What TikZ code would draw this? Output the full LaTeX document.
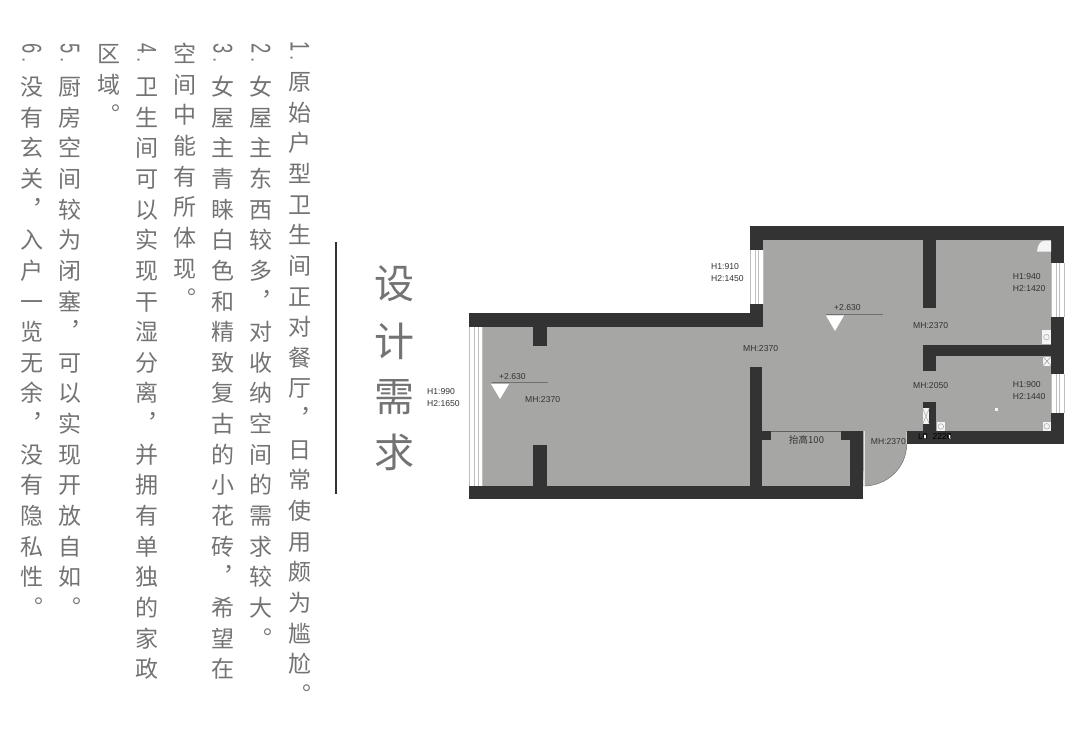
\documentclass[tikz,border=0pt]{standalone}
\usepackage{fontspec}
\usepackage{xcolor}
\setmainfont{Liberation Sans}
\newfontfamily\cjk[RawFeature=+vert]{Noto Sans CJK SC}
\newfontfamily\cjkplain{Noto Sans CJK SC}
\definecolor{wallgray}{RGB}{51,51,51}
\definecolor{floorgray}{RGB}{166,166,164}
\definecolor{textgray}{RGB}{115,115,115}
\definecolor{stripegray}{RGB}{190,190,190}
\tikzset{
    wall/.style={fill=wallgray,draw=none},
    floorpart/.style={fill=floorgray,draw=none},
    glyph/.style={inner sep=0pt,text=textgray,font=\cjk\fontsize{23}{23}\selectfont,text height=20pt,text depth=3pt,text width=23pt,align=center},
    digit/.style={inner sep=0pt,anchor=west,text=textgray,font=\fontsize{27}{27}\selectfont,rotate=-90},
    dimlabel/.style={anchor=west,inner sep=0pt,text=wallgray,font=\fontsize{8.6}{8.6}\selectfont},
    fixture/.style={fill=white!88!floorgray,draw=none},
    marker/.style={fill=white,draw=none}
}
% one upright column of characters, top to bottom
\newcommand{\vcolumn}[4]{%
    \foreach \c [count=\i from 0] in {#4} {
        \node[glyph] (#1-\i) at (#2,#3+30.65*\i) {\c};
    }
}
% narrow number lying on its side, then its dot
\newcommand{\vnumber}[1]{\scalebox{.68}[1]{#1}\kern4pt\scalebox{.7}{.}}
\begin{document}
\begin{tikzpicture}[x=1pt,y=-1pt]
\useasboundingbox (0,0) rectangle (1080,735);

% text columns
\node[digit] (numa) at (300,41) {\vnumber{1}};
\vcolumn{cola}{300}{82}{原,始,户,型,卫,生,间,正,对,餐,厅,，,日,常,使,用,颇,为,尴,尬,。}
\node[digit] (numb) at (261,43) {\vnumber{2}};
\vcolumn{colb}{261}{87}{女,屋,主,东,西,较,多,，,对,收,纳,空,间,的,需,求,较,大,。}
\node[digit] (numc) at (223,43) {\vnumber{3}};
\vcolumn{colc}{223}{87}{女,屋,主,青,睐,白,色,和,精,致,复,古,的,小,花,砖,，,希,望,在}
\vcolumn{cold}{185}{54}{空,间,中,能,有,所,体,现,。}
\node[digit] (numd) at (147,43) {\vnumber{4}};
\vcolumn{cole}{147}{87}{卫,生,间,可,以,实,现,干,湿,分,离,，,并,拥,有,单,独,的,家,政}
\vcolumn{colf}{109}{54}{区,域,。}
\node[digit] (nume) at (70,43) {\vnumber{5}};
\vcolumn{colg}{70}{87}{厨,房,空,间,较,为,闭,塞,，,可,以,实,现,开,放,自,如,。}
\node[digit] (numf) at (32,43) {\vnumber{6}};
\vcolumn{colh}{32}{87}{没,有,玄,关,，,入,户,一,览,无,余,，,没,有,隐,私,性,。}

% title
\draw[wallgray,line width=2pt] (336,242) -- (336,494);
\foreach \c/\y/\n in {设/284/a,计/341/b,需/397/c,求/452/d} {
    \node[inner sep=0pt,text=textgray,font=\cjkplain\fontsize{40}{40}\selectfont] (title\n) at (394,\y) {\c};
}

% floor
\fill[floorpart] (483,327) rectangle (752,486);
\fill[floorpart] (750,240) rectangle (1052,432);
\fill[floorpart] (752,431) rectangle (851,486);
\fill[floorpart] (862,431) -- (906.7,431) -- (906.7,444) arc[start angle=0,end angle=90,x radius=43pt,y radius=-42pt] -- cycle;
\draw[wallgray!70,line width=.5pt] (906.7,444) arc[start angle=0,end angle=90,x radius=43pt,y radius=-42pt];
\draw[white!70!floorgray,line width=.7pt] (864,431) -- (864,486);
\draw[wallgray!60!floorgray,line width=.6pt] (771,431) -- (841,431);

% walls
\foreach \xa/\ya/\xb/\yb in {
    469/313/763/327, 469/486/863.3/499.3, 533.3/327/546.7/345.7, 533.3/445/546.7/486,
    750/226/1064.3/240, 750/226/763.3/250, 750/304/763.3/327, 750/367.3/761.7/486,
    761/431/771/440, 840.7/431/863.3/440, 850/431/863.3/499.3,
    922.7/240/936/308.3, 922.7/345/1051/356, 922.7/345/936/371, 922.7/402.3/936/431,
    906.7/430.7/1064.3/444, 1051/226/1064.3/262.7, 1051/316.7/1064.3/374, 1051/413.3/1064.3/444} {
    \fill[wall] (\xa,\ya) rectangle (\xb,\yb);
}

% windows
\foreach \xa/\ya/\xb/\yb in {469.3/327/483/486, 750/250/763.3/304, 1051/262.7/1064.3/316.7, 1051/374/1064.3/413.3} {
    \fill[white] (\xa,\ya) rectangle (\xb,\yb);
    \foreach \f in {0.03,0.37,0.63,0.97} {
        \draw[stripegray,line width=.7pt] ({\xa+\f*(\xb-\xa)},\ya) -- ({\xa+\f*(\xb-\xa)},\yb);
    }
}

% fixtures
\fill[fixture] (1041.7,330) rectangle (1051,344.3);
\draw[floorgray,line width=.5pt] (1046.4,337.2) circle[radius=2.8pt];
\fill[fixture] (1043,356.7) rectangle (1051,365.7);
\draw[floorgray,line width=.6pt] (1043,356.7) -- (1051,365.7) (1043,365.7) -- (1051,356.7);
\fill[fixture] (1042.7,421.7) rectangle (1051,431);
\draw[floorgray,line width=.5pt] (1046.8,426.3) circle[radius=2.8pt];
\fill[fixture] (936.7,422) rectangle (945,431);
\draw[floorgray,line width=.5pt] (940.8,426.5) circle[radius=2.8pt];
\fill[fixture] (922.7,408.3) rectangle (929.3,424);
\draw[floorgray,line width=.5pt] (922.7,408.3) -- (929.3,424) (922.7,424) -- (929.3,408.3);
\fill[fixture] (1051,240.7) -- (1051,251.7) -- (1037,251.7) .. controls (1037.5,245) and (1040,240.9) .. (1045,240.7) -- cycle;
\fill[fixture] (994.5,408) rectangle (997.5,411);
\fill[white] (923.5,435) rectangle (926,439.5);
\fill[white] (949,435) rectangle (951,439.5);

% level markers
\fill[marker] (491,384) -- (509,384) -- (500,399) -- cycle;
\draw[wallgray!70,line width=.4pt] (491.7,382.7) -- (548.3,382.7);
\fill[marker] (826,315.5) -- (844,315.5) -- (835,331) -- cycle;
\draw[wallgray!70,line width=.4pt] (826,314.3) -- (883,314.3);

% labels
\foreach \n/\x/\y/\t in {
    la/427/392/H1:990, lb/427/404/H2:1650, lc/711/266.7/H1:910, ld/711/278.7/H2:1450,
    le/499/376.7/+2.630, lf/525/400/MH:2370, lg/743/348.3/MH:2370, lh/834/307.7/+2.630,
    li/913/326/MH:2370, lj/913/386/MH:2050, lk/1012.7/276.7/H1:940, ll/1012.7/288.3/H2:1420,
    lm/1012.7/385/H1:900, ln/1012.7/396.7/H2:1440, lo/870.7/442/MH:2370} {
    \node[dimlabel] (\n) at (\x,\y) {\t};
}
\node[dimlabel,font=\cjkplain\fontsize{9.5}{9.5}\selectfont] (raise) at (789,440) {抬高100};
\node[dimlabel,text=black] (lp) at (918,437) {L0 \ 2220};
\end{tikzpicture}
\end{document}
